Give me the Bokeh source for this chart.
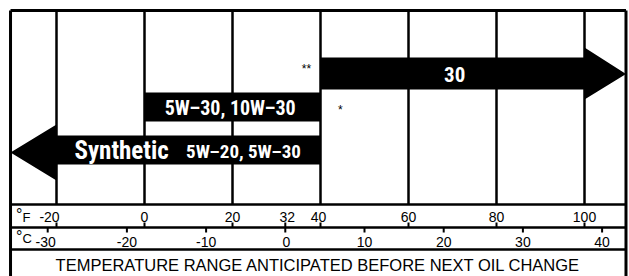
from bokeh.plotting import figure
from bokeh.models import Range1d
from bokeh.core.properties import value
from bokeh.embed import file_html
from bokeh.resources import INLINE

# ---------------- data ----------------
grade_30_label = "30"
grade_30_min_f = 40            # use 30 above 40 °F
multi_label = "5W–30,  10W–30"
multi_range_f = [0, 40]        # 0 .. 40 °F
synthetic_label = "Synthetic"
synthetic_grades = "5W–20, 5W–30"
synthetic_max_f = 40           # synthetic below 40 °F
fahrenheit_ticks = [-20, 0, 20, 32, 40, 60, 80, 100]
fahrenheit_labels = ["-20", "0", "20", "32", "40", "60", "80", "100"]
celsius_ticks = [-30, -20, -10, 0, 10, 20, 30, 40]
celsius_labels = ["-30", "-20", "-10", "0", "10", "20", "30", "40"]
grid_f = [-20, 0, 20, 40, 60, 80, 100]
title_text = "TEMPERATURE RANGE ANTICIPATED BEFORE NEXT OIL CHANGE"

# ---------------- layout (x in °F, y in page pixels, top = small) ----------------
F_LEFT, F_RIGHT = -30.45, 109.43
Y_TOP, Y_ROWF, Y_MID, Y_ROWC, Y_BOT = 10, 204, 227, 249, 276
f_label_dx = [-7, 0, 0, 2, -2, 0, 0, 0]      # px nudges of the °F labels
c_label_dx = [-2, 0, 0, 1, 0, 0, 0, 0]       # px nudges of the °C labels

W, H = 629, 276
p = figure(width=W, height=H, output_backend="svg", toolbar_location=None,
           x_range=Range1d(-144 / 4.4, (629 - 144) / 4.4), y_range=Range1d(276, 0),
           x_axis_type=None, y_axis_type=None, min_border=0,
           outline_line_color=None, background_fill_color="white",
           border_fill_color="white")
p.grid.visible = False

# vertical grid lines
p.segment(x0=grid_f, y0=[Y_TOP] * len(grid_f), x1=grid_f, y1=[Y_ROWF] * len(grid_f),
          line_color="black", line_width=2.5)

# arrow "30"
a0 = grade_30_min_f
p.patch(x=[a0, 100, 100, F_RIGHT, 100, 100, a0],
        y=[57, 57, 47, 73.5, 99, 89, 89],
        fill_color="black", line_color=None)
# bar 5W-30 10W-30
m0, m1 = multi_range_f
p.patch(x=[m0, m1, m1, m0], y=[92, 92, 121, 121], fill_color="black", line_color=None)
# synthetic arrow
s1 = synthetic_max_f
p.patch(x=[s1, -20, -20, F_LEFT, -20, -20, s1],
        y=[135, 135, 124, 152, 180, 164, 164],
        fill_color="black", line_color=None)

COND = value("Roboto Condensed")
p.text(x=[(a0 + 100) / 2 + 0.5], y=[73.5], text=[grade_30_label], text_font=COND,
       text_font_style="bold", text_font_size="21px", text_color="white",
       text_align="center", text_baseline="middle")
p.text(x=[(m0 + m1) / 2], y=[107], text=[multi_label], text_font=COND,
       text_font_style="bold", text_font_size="20px", text_color="white",
       text_align="center", text_baseline="middle")
p.text(x=[-5.2], y=[150], text=[synthetic_label], text_font=COND,
       text_font_style="bold", text_font_size="25px", text_color="white",
       text_align="center", text_baseline="middle")
p.text(x=[22.5], y=[151], text=[synthetic_grades], text_font=COND,
       text_font_style="bold", text_font_size="19px", text_color="white",
       text_align="center", text_baseline="middle")

# footnote marks
p.text(x=[36.8, 44.5], y=[68, 109], text=["**", "*"], text_font=value("Liberation Sans"),
       text_font_size="12px", text_color="black", text_align="center",
       text_baseline="middle")

# scale rows
n = len(fahrenheit_ticks)
p.segment(x0=fahrenheit_ticks, y0=[Y_MID] * n, x1=fahrenheit_ticks, y1=[Y_MID - 5] * n,
          line_color="black", line_width=2)
p.text(x=fahrenheit_ticks, y=[216.5] * n, text=fahrenheit_labels, x_offset=f_label_dx,
       text_font=value("Liberation Sans"), text_font_size="14px", text_color="black",
       text_align="center", text_baseline="middle")
c_as_f = [c * 9 / 5 + 32 for c in celsius_ticks]
m = len(c_as_f)
p.segment(x0=c_as_f, y0=[Y_MID] * m, x1=c_as_f, y1=[Y_MID + 5] * m,
          line_color="black", line_width=2)
p.text(x=c_as_f, y=[241] * m, text=celsius_labels, x_offset=c_label_dx,
       text_font=value("Liberation Sans"), text_font_size="14px", text_color="black",
       text_align="center", text_baseline="middle")

# unit labels
p.text(x=[-28.5, -28.5], y=[214, 236], text=["°", "°"], text_font=value("Liberation Sans"),
       text_font_size="16px", text_color="black", text_align="center",
       text_baseline="middle")
p.text(x=[-27.7, -27.7], y=[217, 238], text=["F", "C"], text_font=value("Liberation Sans"),
       text_font_size="13px", text_color="black", text_align="left",
       text_baseline="middle")

# title
p.text(x=[(F_LEFT + F_RIGHT) / 2], y=[264.5], text=[title_text],
       text_font=value("Liberation Sans"), text_font_size="16.5px", text_color="black",
       text_align="center", text_baseline="middle")

# borders and row lines
p.segment(x0=[F_LEFT, F_RIGHT], y0=[Y_TOP, Y_TOP], x1=[F_LEFT, F_RIGHT], y1=[Y_BOT, Y_BOT],
          line_color="black", line_width=3)
p.segment(x0=[F_LEFT] * 4, y0=[Y_TOP, Y_ROWF, Y_MID, Y_ROWC],
          x1=[F_RIGHT] * 4, y1=[Y_TOP, Y_ROWF, Y_MID, Y_ROWC],
          line_color="black", line_width=[3, 2.5, 2.5, 2.5])

open("out.html", "w").write(file_html(p, INLINE))
